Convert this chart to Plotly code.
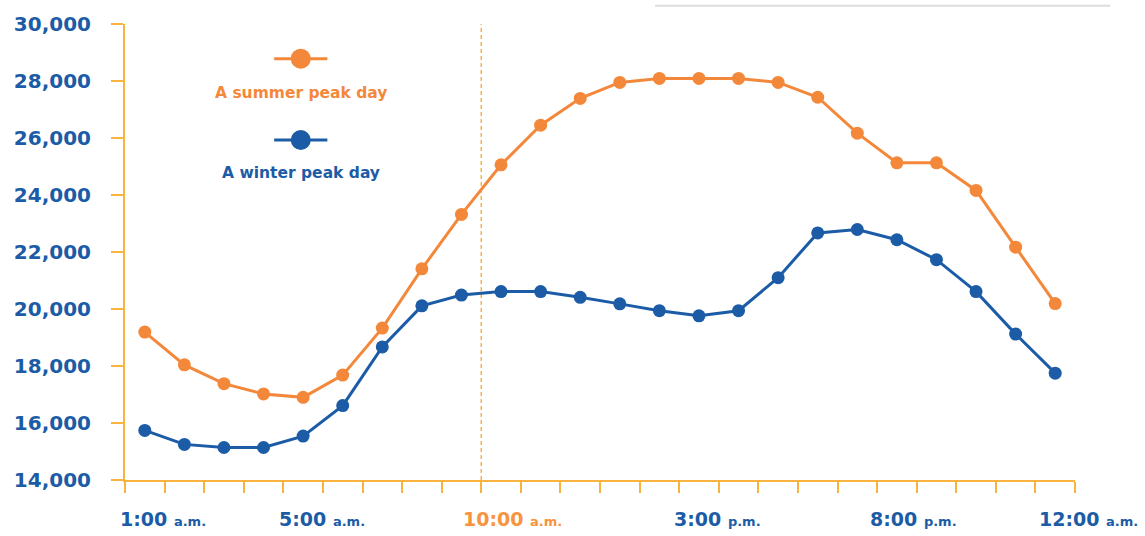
import plotly.graph_objects as go

# ---- data ----
hours = list(range(1, 25))  # hour-of-day index, 1:00 a.m. ... 12:00 a.m.
summer = [19190, 18040, 17380, 17020, 16900, 17680, 19330, 21410, 23320, 25060,
          26450, 27390, 27950, 28090, 28090, 28090, 27950, 27430, 26170, 25130,
          25130, 24160, 22170, 20190]
winter = [15740, 15250, 15140, 15140, 15540, 16610, 18670, 20110, 20490, 20610,
          20610, 20410, 20180, 19940, 19760, 19940, 21100, 22670, 22790, 22430,
          21730, 20610, 19120, 17750]
x_labels_main = ["1:00", "5:00", "10:00", "3:00", "8:00", "12:00"]
x_labels_sub = ["a.m.", "a.m.", "a.m.", "p.m.", "p.m.", "a.m."]
y_ticks = [14000, 16000, 18000, 20000, 22000, 24000, 26000, 28000, 30000]
series_names = ["A summer peak day", "A winter peak day"]

# ---- style ----
ORANGE = "#F4883A"
BLUE = "#1C5CA6"
AXIS = "#F9B440"
LABEL_ORANGE = "#F69440"
FONT = "DejaVu Sans"
X_RANGE = [0.5, 24.5]
label_pos = [1.45, 5.47, 10.3, 15.48, 20.43, 24.85]
label_colors = [BLUE, BLUE, LABEL_ORANGE, BLUE, BLUE, BLUE]

fig = go.Figure()
for vals, color, name in [(summer, ORANGE, series_names[0]), (winter, BLUE, series_names[1])]:
    fig.add_trace(go.Scatter(
        x=hours, y=vals, mode="lines+markers", name=name,
        line=dict(color=color, width=3),
        marker=dict(color=color, size=13),
        showlegend=False,
    ))

# dashed reference line between 9:00 and 10:00
fig.add_vline(x=9.5, line=dict(color=AXIS, width=1.5, dash="4px,3px"), layer="below")

# x labels (big time + small a.m./p.m.), positioned in paper space so the last one can overhang
for pos, main, sub, col in zip(label_pos, x_labels_main, x_labels_sub, label_colors):
    px = (pos - X_RANGE[0]) / (X_RANGE[1] - X_RANGE[0])
    fig.add_annotation(
        x=px, xref="paper", xanchor="center", y=0, yref="paper", yanchor="middle", yshift=-39,
        text=f"{main} <span style='font-size:13px'>{sub}</span>",
        showarrow=False, font=dict(family=FONT, size=19, color=col, weight="bold"),
    )

# custom legend: key above text
legend_x = 0.185
for key_y, text_y, color, name in [(0.924, 0.848, ORANGE, series_names[0]),
                                   (0.7457, 0.674, BLUE, series_names[1])]:
    fig.add_shape(type="line", xref="paper", yref="paper",
                  x0=legend_x - 0.028, x1=legend_x + 0.028, y0=key_y, y1=key_y,
                  line=dict(color=color, width=3))
    fig.add_shape(type="circle", xref="paper", yref="paper",
                  xsizemode="pixel", ysizemode="pixel",
                  xanchor=legend_x, yanchor=key_y, x0=-10, x1=10, y0=-10, y1=10,
                  fillcolor=color, line=dict(color=color, width=0))
    fig.add_annotation(x=legend_x, y=text_y, xref="paper", yref="paper",
                       xanchor="center", yanchor="middle",
                       text=name, showarrow=False,
                       font=dict(family=FONT, size=15.5, color=color, weight="bold"))

# faint border fragment at top right
fig.add_shape(type="line", xref="paper", yref="paper", x0=0.558, x1=1.037,
              y0=1.04, y1=1.04, line=dict(color="#DDDDDD", width=2))

fig.update_layout(
    width=1145, height=536,
    margin=dict(l=125, r=70, t=20, b=56),
    paper_bgcolor="white", plot_bgcolor="white",
    font=dict(family=FONT),
    xaxis=dict(
        range=X_RANGE, showgrid=False, zeroline=False,
        showline=True, linecolor=AXIS, linewidth=2,
        tickvals=[], ticks="",
        minor=dict(tickvals=[h + 0.5 for h in [0] + hours], ticks="outside",
                   ticklen=11, tickwidth=2, tickcolor=AXIS, showgrid=False),
    ),
    yaxis=dict(
        range=[14000, 30000], tickvals=y_ticks, tickformat=",d",
        showgrid=False, zeroline=False,
        showline=True, linecolor=AXIS, linewidth=2,
        ticks="outside", ticklen=12, tickwidth=2, tickcolor=AXIS,
        ticklabelstandoff=16,
        tickfont=dict(family=FONT, size=20, color=BLUE, weight="bold"),
    ),
)

fig.write_html("out.html", config={"displayModeBar": False},
               post_script="document.body.style.margin='0';")
